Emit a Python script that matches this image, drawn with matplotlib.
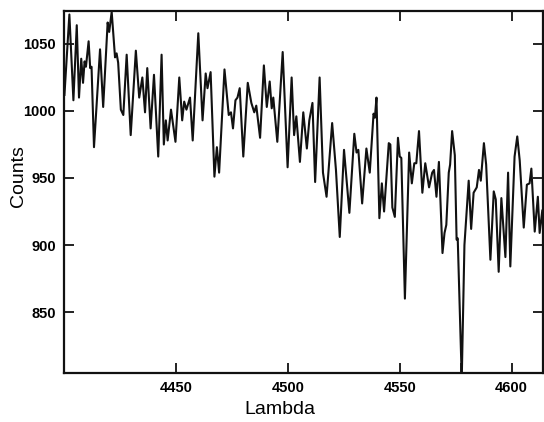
import matplotlib

matplotlib.use("Agg")
import matplotlib.pyplot as plt  # noqa: E402

# spectrum (local extrema of the trace)
LAMBDA = [
    4400.2, 4402.4, 4404.2, 4405.7, 4406.7, 4407.7, 4408.5, 4409.2, 4409.8, 4411.0,
    4411.7, 4412.3, 4413.4, 4416.1, 4417.5, 4419.5, 4420.2, 4421.3, 4422.8, 4423.5,
    4424.2, 4425.4, 4426.5, 4428.0, 4429.8, 4432.1, 4433.6, 4435.0, 4436.2, 4437.2,
    4438.7, 4440.2, 4442.1, 4443.6, 4444.6, 4445.5, 4446.3, 4447.8, 4449.8, 4451.5,
    4452.8, 4453.7, 4454.7, 4456.3, 4457.5, 4460.0, 4461.9, 4463.3, 4464.1, 4465.5,
    4467.2, 4468.3, 4469.3, 4471.7, 4473.6, 4474.6, 4475.5, 4476.6, 4477.5, 4478.5,
    4480.1, 4482.1, 4483.7, 4485.0, 4485.9, 4487.6, 4489.3, 4490.6, 4491.9, 4492.8,
    4493.5, 4495.3, 4497.7, 4499.9, 4501.7, 4502.8, 4503.8, 4505.4, 4506.9, 4508.5,
    4509.6, 4511.0, 4512.2, 4514.2, 4515.7, 4517.3, 4519.8, 4521.5, 4523.2, 4525.1,
    4527.5, 4529.7, 4530.7, 4531.5, 4533.2, 4535.1, 4536.6, 4538.3, 4538.9, 4539.6,
    4540.9, 4542.0, 4543.0, 4545.1, 4545.8, 4546.7, 4547.8, 4549.2, 4550.0, 4550.7,
    4552.3, 4554.2, 4555.4, 4556.5, 4557.4, 4558.6, 4560.1, 4561.4, 4563.1, 4564.5,
    4565.3, 4566.4, 4567.5, 4569.1, 4570.0, 4570.8, 4571.9, 4572.5, 4573.4, 4574.6,
    4575.4, 4575.9, 4577.7, 4578.9, 4580.8, 4581.9, 4583.0, 4584.4, 4585.4, 4586.2,
    4587.6, 4588.6, 4590.5, 4592.0, 4592.9, 4594.2, 4595.4, 4597.2, 4598.4, 4599.4,
    4601.3, 4602.5, 4603.6, 4605.4, 4606.8, 4608.0, 4608.8, 4610.3, 4611.7, 4612.5,
    4613.7, 4614.3,
]
COUNTS = [
    1012, 1072, 1008, 1064, 1010, 1039, 1021, 1037, 1033, 1052,
    1032, 1033, 973, 1046, 1003, 1066, 1059, 1074, 1040, 1043,
    1036, 1001, 997, 1042, 982, 1045, 1010, 1025, 999, 1032,
    987, 1027, 966, 1042, 975, 993, 978, 1001, 977, 1025,
    993, 1007, 1001, 1010, 978, 1058, 993, 1028, 1017, 1029,
    951, 973, 954, 1031, 997, 999, 987, 1008, 1010, 1017,
    966, 1021, 1006, 999, 1004, 980, 1034, 1003, 1022, 1002,
    1010, 977, 1044, 958, 1025, 982, 996, 962, 999, 972,
    993, 1006, 947, 1025, 954, 936, 991, 956, 906, 971,
    924, 983, 969, 971, 931, 972, 954, 998, 995, 1010,
    920, 946, 925, 976, 975, 928, 921, 980, 966, 965,
    860, 969, 946, 961, 961, 985, 939, 961, 943, 954,
    956, 936, 962, 894, 909, 915, 954, 960, 985, 967,
    904, 905, 800, 900, 948, 912, 939, 943, 956, 948,
    976, 960, 889, 940, 934, 880, 935, 891, 954, 884,
    966, 981, 963, 913, 945, 946, 957, 910, 936, 909,
    926, 904,
]
X_TICKS = [4450, 4500, 4550, 4600]
X_MARK = [4577.5]          # unlabelled tick under the deep line
Y_TICKS = [850, 900, 950, 1000, 1050]

INK = "#111111"
plt.rcParams.update({
    "font.family": ["Liberation Sans Narrow", "Liberation Sans", "DejaVu Sans"],
    "axes.linewidth": 1.6,
    "axes.edgecolor": INK,
})

fig = plt.figure(figsize=(5.44, 4.22), dpi=100)
ax = fig.add_axes([64 / 544, 1 - 373 / 422, 479 / 544, 362 / 422])

ax.plot(LAMBDA, COUNTS, color=INK, lw=1.5, solid_joinstyle="round", clip_on=True)

ax.set_xlim(4400, 4614)
ax.set_ylim(804.5, 1074.6)
ax.set_xticks(X_TICKS)
ax.set_xticks(X_MARK, minor=True)
ax.set_yticks(Y_TICKS)
ax.tick_params(which="both", direction="in", length=7.5, width=1.3, color=INK,
               top=True, right=True, labelsize=10.5, pad=6)
ax.tick_params(axis="x", which="minor", top=False)
for lab in ax.get_xticklabels() + ax.get_yticklabels():
    lab.set_fontweight("bold")

fig.text(280 / 544, 1 - 410 / 422, "Lambda", ha="center", va="center",
         fontsize=14, family=["Liberation Sans", "DejaVu Sans"])
fig.text(19 / 544, 1 - 176 / 422, "Counts", ha="center", va="center",
         rotation=90, fontsize=14, family=["Liberation Sans", "DejaVu Sans"])

fig.savefig("out.png", dpi=100, facecolor="white")
